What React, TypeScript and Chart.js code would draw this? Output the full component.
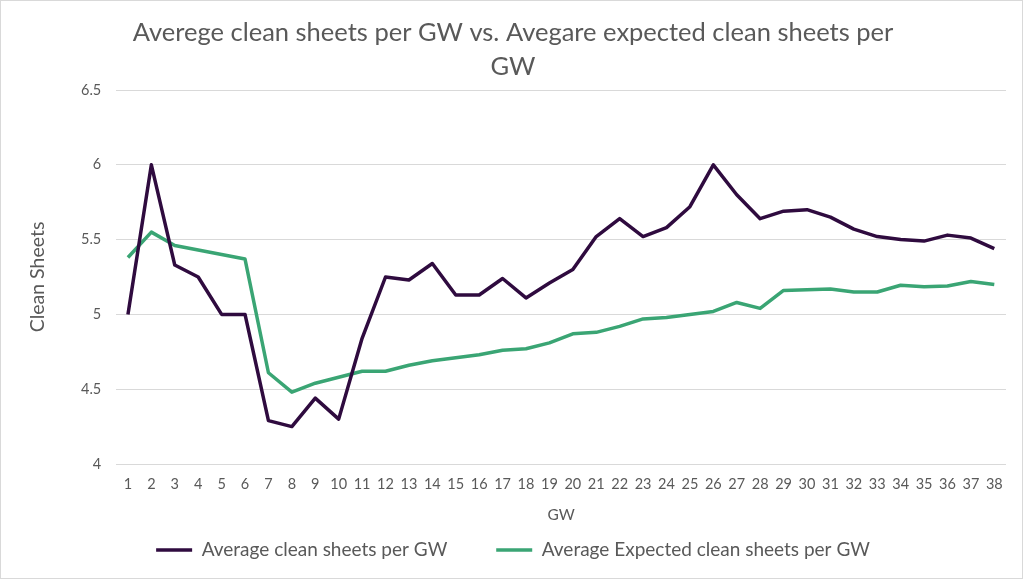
import React, { useEffect, useRef } from "react";
import { Chart, registerables } from "chart.js";

Chart.register(...registerables);

const gameweeks: string[] = [
  "1","2","3","4","5","6","7","8","9","10","11","12","13","14","15","16","17","18","19",
  "20","21","22","23","24","25","26","27","28","29","30","31","32","33","34","35","36","37","38",
];

const avgCleanSheets: number[] = [
  5.0, 6.0, 5.33, 5.25, 5.0, 5.0, 4.29, 4.25, 4.44, 4.3,
  4.84, 5.25, 5.23, 5.34, 5.13, 5.13, 5.24, 5.11, 5.21, 5.3,
  5.52, 5.64, 5.52, 5.58, 5.72, 6.0, 5.8, 5.64, 5.69, 5.7,
  5.65, 5.57, 5.52, 5.5, 5.49, 5.53, 5.51, 5.44,
];

const avgExpectedCleanSheets: number[] = [
  5.38, 5.55, 5.46, 5.43, 5.4, 5.37, 4.61, 4.48, 4.54, 4.58,
  4.62, 4.62, 4.66, 4.69, 4.71, 4.73, 4.76, 4.77, 4.81, 4.87,
  4.88, 4.92, 4.97, 4.98, 5.0, 5.02, 5.08, 5.04, 5.16, 5.165,
  5.17, 5.15, 5.15, 5.195, 5.185, 5.19, 5.22, 5.2,
];

const seriesNames: string[] = [
  "Average clean sheets per GW",
  "Average Expected clean sheets per GW",
];

const titleLines: string[] = [
  "Averege clean sheets per GW vs. Avegare expected clean sheets per",
  "GW",
];

const yAxisTitle = "Clean Sheets";
const xAxisTitle = "GW";

const FONT = "Lato, 'Open Sans', sans-serif";
const TEXT = "#595959";
const GRID = "#d9d9d9";

export default function App() {
  const canvasRef = useRef<HTMLCanvasElement | null>(null);

  useEffect(() => {
    document.body.style.margin = "0";
    const canvas = canvasRef.current;
    if (!canvas) return;
    const chart = new Chart(canvas, {
      type: "line",
      data: {
        labels: gameweeks,
        datasets: [
          {
            label: seriesNames[0],
            data: avgCleanSheets,
            borderColor: "#2f0b3f",
            backgroundColor: "#2f0b3f",
            borderWidth: 3.5,
            pointRadius: 0,
            tension: 0,
            borderJoinStyle: "round",
          },
          {
            label: seriesNames[1],
            data: avgExpectedCleanSheets,
            borderColor: "#3aa574",
            backgroundColor: "#3aa574",
            borderWidth: 3.5,
            pointRadius: 0,
            tension: 0,
            borderJoinStyle: "round",
          },
        ],
      },
      options: {
        responsive: false,
        animation: false,
        layout: { padding: { top: 16, left: 20, right: 18, bottom: 11.5 } },
        plugins: {
          title: {
            display: true,
            text: titleLines,
            color: TEXT,
            font: { family: FONT, size: 25.5, weight: "normal", lineHeight: "34px" },
            padding: { top: 0, bottom: 6 },
          },
          legend: {
            position: "bottom",
            labels: {
              color: TEXT,
              font: { family: FONT, size: 19 },
              usePointStyle: true,
              pointStyle: "line",
              pointStyleWidth: 36,
              padding: 10,
              generateLabels: (c: any) => {
                const items = Chart.defaults.plugins.legend.labels.generateLabels(c);
                return items.map((it: any, i: number) => {
                  it.pointStyle = "line";
                  if (i === 0) it.text = it.text + "        ";
                  return it;
                });
              },
            },
          },
          tooltip: { enabled: false },
        },
        scales: {
          x: {
            offset: true,
            grid: { display: false, drawTicks: false },
            border: { display: false },
            ticks: {
              color: TEXT,
              font: { family: FONT, size: 14.5 },
              padding: 12,
              maxRotation: 0,
              autoSkip: false,
            },
            title: {
              display: true,
              text: xAxisTitle,
              color: TEXT,
              font: { family: FONT, size: 15.5 },
              padding: { top: 0, bottom: 6.5 },
            },
          },
          y: {
            min: 4,
            max: 6.5,
            grid: { color: GRID, lineWidth: 1, drawTicks: false },
            border: { display: false },
            ticks: {
              stepSize: 0.5,
              color: TEXT,
              font: { family: FONT, size: 14.5 },
              padding: 15,
              callback: (v: any) => String(Number(v)),
            },
            title: {
              display: true,
              text: yAxisTitle,
              color: TEXT,
              font: { family: FONT, size: 19.5 },
              padding: { top: 6.3, bottom: 16.3 },
            },
          },
        },
      },
    });
    return () => chart.destroy();
  }, []);

  return (
    <div style={{ position: "fixed", left: 0, top: 0, width: 1024, height: 581, background: "#ffffff" }}>
      <canvas ref={canvasRef} width={1024} height={581} style={{ position: "absolute", left: 0, top: 0 }} />
      <div
        style={{
          position: "absolute",
          left: 0,
          top: 0,
          width: 1023,
          height: 579,
          boxSizing: "border-box",
          border: "1px solid #d9d9d9",
          pointerEvents: "none",
        }}
      />
    </div>
  );
}
